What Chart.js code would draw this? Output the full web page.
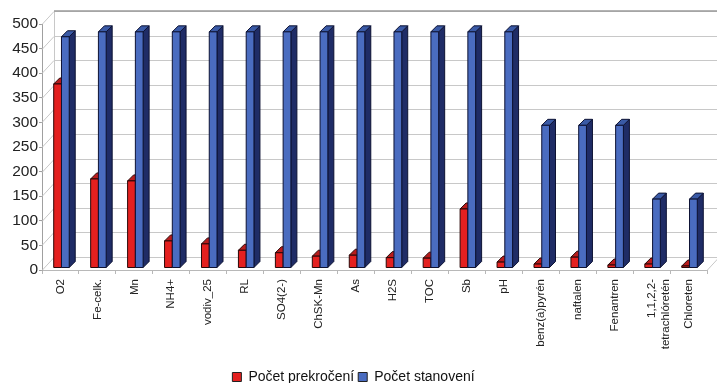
<!DOCTYPE html>
<html>
<head>
<meta charset="utf-8">
<script src="https://cdn.jsdelivr.net/npm/chart.js@4/dist/chart.umd.min.js"></script>
<style>
  html, body { margin: 0; padding: 0; background: #ffffff; }
  #wrap { width: 717px; height: 383px; }
</style>
</head>
<body>
<div id="wrap"><canvas id="c" width="717" height="383"></canvas></div>
<script>
// Parameters and counts
const categories = [
  "O2", "Fe-celk.", "Mn", "NH4+", "vodiv_25", "RL", "SO4(2-)", "ChSK-Mn", "As",
  "H2S", "TOC", "Sb", "pH", "benz(a)pyrén", "naftalen", "Fenantren",
  ["1,1,2,2-", "tetrachlóretén"], "Chloreten"
];
const seriesNames = ["Počet prekročení", "Počet stanovení"];
const prekroceni = [374, 181, 177, 55, 49, 36, 31, 24, 26, 21, 20, 120, 12, 8, 22, 6, 8, 4];
const stanoveni  = [470, 480, 480, 480, 480, 480, 480, 480, 480, 480, 480, 480, 480, 290, 290, 290, 140, 140];
const yTicks = [0, 50, 100, 150, 200, 250, 300, 350, 400, 450, 500];

// 3D look: depth of the walls and of each column
const WALL_DX = 12, WALL_DY = 13;
const BAR_DX = 6, BAR_DY = 6;
const BAR_SHIFT_X = 1, BAR_SHIFT_Y = -2;

const faces = [
  { front: "#e4201f", top: "#b81c1c", side: "#7a1212", edge: "#2a0808" },
  { front: "#4a6cc0", top: "#3a5aa6", side: "#1f2c66", edge: "#0d1233" }
];

const walls = {
  id: "walls",
  beforeDatasetsDraw(chart) {
    const ctx = chart.ctx;
    const y = chart.scales.y;
    const a = chart.chartArea;
    ctx.save();
    ctx.lineWidth = 1;
    ctx.strokeStyle = "#c8c8c8";
    yTicks.forEach(v => {
      const py = Math.round(y.getPixelForValue(v)) + 0.5;
      ctx.beginPath();
      ctx.moveTo(a.left, py);
      ctx.lineTo(a.left + WALL_DX, py - WALL_DY);
      ctx.lineTo(a.right + WALL_DX, py - WALL_DY);
      ctx.stroke();
    });
    // back-left edge of the walls
    ctx.beginPath();
    ctx.moveTo(a.left + WALL_DX + 0.5, a.top - WALL_DY);
    ctx.lineTo(a.left + WALL_DX + 0.5, a.bottom - WALL_DY);
    ctx.stroke();
    // right edge of the floor
    ctx.beginPath();
    ctx.moveTo(a.right, a.bottom + 0.5);
    ctx.lineTo(a.right + WALL_DX, a.bottom - WALL_DY + 0.5);
    ctx.stroke();
    // top edge of the back wall
    ctx.strokeStyle = "#9a9a9a";
    ctx.lineWidth = 1.5;
    ctx.beginPath();
    ctx.moveTo(a.left + WALL_DX, a.top - WALL_DY);
    ctx.lineTo(a.right + WALL_DX, a.top - WALL_DY);
    ctx.stroke();
    ctx.restore();
  },
  beforeDatasetDraw() {
    return false; // columns are drawn as boxes below
  },
  afterDatasetsDraw(chart) {
    const ctx = chart.ctx;
    const metas = [chart.getDatasetMeta(0), chart.getDatasetMeta(1)];
    ctx.save();
    ctx.lineWidth = 1;
    ctx.lineJoin = "round";
    for (let i = 0; i < categories.length; i++) {
      metas.forEach((meta, d) => {
        const el = meta.data[i];
        const f = faces[d];
        const x0 = el.x - el.width / 2 + BAR_SHIFT_X;
        const x1 = el.x + el.width / 2 + BAR_SHIFT_X;
        const top = el.y + BAR_SHIFT_Y;
        const base = el.base + BAR_SHIFT_Y;
        ctx.strokeStyle = f.edge;
        // side
        ctx.beginPath();
        ctx.moveTo(x1, top);
        ctx.lineTo(x1 + BAR_DX, top - BAR_DY);
        ctx.lineTo(x1 + BAR_DX, base - BAR_DY);
        ctx.lineTo(x1, base);
        ctx.closePath();
        ctx.fillStyle = f.side; ctx.fill(); ctx.stroke();
        // top
        ctx.beginPath();
        ctx.moveTo(x0, top);
        ctx.lineTo(x0 + BAR_DX, top - BAR_DY);
        ctx.lineTo(x1 + BAR_DX, top - BAR_DY);
        ctx.lineTo(x1, top);
        ctx.closePath();
        ctx.fillStyle = f.top; ctx.fill(); ctx.stroke();
        // front
        ctx.beginPath();
        ctx.rect(x0, top, x1 - x0, base - top);
        ctx.fillStyle = f.front; ctx.fill(); ctx.stroke();
      });
    }
    ctx.restore();
  }
};

new Chart(document.getElementById("c"), {
  type: "bar",
  data: {
    labels: categories,
    datasets: [
      { label: seriesNames[0], data: prekroceni, backgroundColor: faces[0].front, borderColor: "#222", borderWidth: 1 },
      { label: seriesNames[1], data: stanoveni, backgroundColor: faces[1].front, borderColor: "#222", borderWidth: 1 }
    ]
  },
  options: {
    responsive: false,
    animation: false,
    events: [],
    layout: { padding: { top: 24, right: 10, left: 0, bottom: 0 } },
    datasets: { bar: { categoryPercentage: 0.42, barPercentage: 1.0 } },
    scales: {
      x: {
        afterFit(s) { s.height = 96; },
        grid: { display: true, drawOnChartArea: false, tickLength: 4, color: "#b8b8b8", offset: true },
        border: { display: true, color: "#b8b8b8" },
        ticks: {
          autoSkip: false, minRotation: 90, maxRotation: 90, padding: 5,
          color: "#222", font: { family: "Liberation Sans", size: 11.5 }
        }
      },
      y: {
        min: 0, max: 500,
        afterFit(s) { s.width = 42; },
        afterBuildTicks(s) { s.ticks = yTicks.map(v => ({ value: v })); },
        grid: { display: true, drawOnChartArea: false, tickLength: 3, color: "#a0a0a0" },
        border: { display: true, color: "#a0a0a0" },
        ticks: { padding: 1, color: "#222", font: { family: "Liberation Sans", size: 15.5 } }
      }
    },
    plugins: {
      legend: {
        position: "bottom",
        maxHeight: 17,
        labels: {
          padding: 4, boxWidth: 9, boxHeight: 9, color: "#111",
          font: { family: "Liberation Sans", size: 14 }
        }
      },
      tooltip: { enabled: false }
    }
  },
  plugins: [walls]
});
</script>
</body>
</html>
